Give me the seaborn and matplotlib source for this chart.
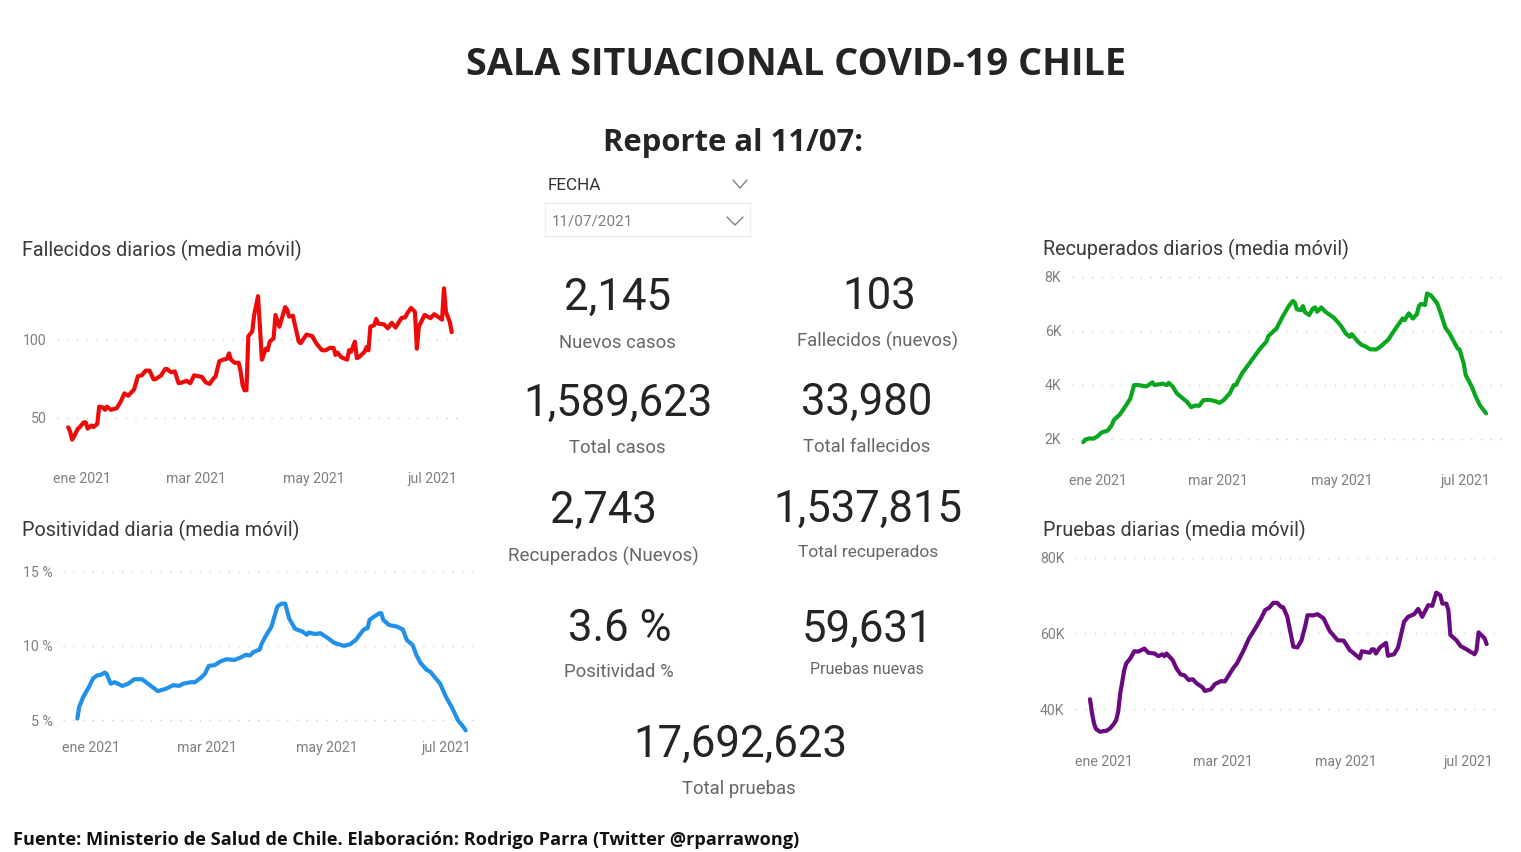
"""Sala situacional COVID-19 Chile: recreated dashboard."""
import matplotlib
matplotlib.use("Agg")
import matplotlib.pyplot as plt
import pandas as pd
import seaborn as sns

# ----------------------------------------------------------------
# DATA (days counted from 1 Jan 2021)
# ----------------------------------------------------------------
fall_dias = [-7, -6, -5, -4, -2, -1, 1, 2, 3, 5, 6, 8, 9, 11, 12, 13, 15, 18, 20, 22,
             24, 27, 29, 31, 33, 35, 37, 38, 41, 43, 44, 46, 48, 50, 52, 54, 56, 58, 60, 62,
             64, 66, 68, 69, 71, 73, 75, 76, 77, 79, 81, 82, 83, 84, 85, 86, 88, 89, 91, 93,
             95, 96, 97, 99, 100, 102, 105, 106, 107, 109, 112, 113, 116, 119, 121, 124, 126, 128, 130, 131,
             132, 134, 137, 138, 139, 141, 142, 143, 146, 147, 148, 149, 151, 152, 153, 156, 158, 160, 162, 165,
             167, 168, 170, 172, 173, 174, 177, 180, 182, 186, 187, 188, 190, 191]
fall_vals = [43.8, 41, 36, 38, 43, 44, 47, 47, 43, 45, 44, 46, 57, 56.5, 55, 57, 55, 56, 60, 65.5,
             64, 68, 76.5, 77, 80, 80, 74.5, 74.5, 77, 81, 81, 79, 79.5, 72, 72.5, 73.5, 72, 77, 76.5, 76,
             72.5, 71.5, 75, 76, 86, 87, 87.5, 91, 87, 85, 85, 79.5, 71, 67.5, 67.5, 102, 105, 115.5, 127.5, 87,
             94, 93, 98.5, 100.5, 115.5, 108, 120.5, 119, 114.5, 115, 98.5, 97.5, 103, 102, 97.5, 93, 93, 94.5, 94.5, 90,
             91.5, 88.5, 87, 93, 92, 98.5, 88, 88.5, 92, 95, 93, 108, 109, 113, 110, 109.5, 107, 110.5, 107.5, 113.5,
             114, 116.5, 120, 117.5, 94, 108, 115.5, 113.5, 116, 112.5, 132.5, 117.5, 111, 104.5]

pos_dias = [-7, -6, -4, -1, 1, 3, 5, 7, 8, 10, 12, 16, 19, 22, 26, 29, 34, 38, 42, 45,
            47, 51, 53, 56, 58, 60, 63, 66, 69, 73, 76, 79, 81, 83, 86, 87, 89, 92, 95, 97,
            99, 101, 104, 108, 110, 111, 114, 117, 121, 124, 129, 132, 135, 137, 139, 141, 142, 144, 147, 148,
            149, 152, 154, 156, 159, 161, 164, 166, 168, 171, 173, 178, 181, 184, 187, 190, 191]
pos_vals = [5.1, 5.9, 6.55, 7.25, 7.8, 8.0, 8.05, 8.2, 8.1, 7.45, 7.55, 7.3, 7.45, 7.75, 7.75, 7.45, 6.95, 7.1, 7.35, 7.3,
            7.45, 7.55, 7.55, 7.85, 8.1, 8.65, 8.7, 8.95, 9.1, 9.05, 9.2, 9.4, 9.35, 9.6, 9.75, 10.15, 10.65, 11.3, 12.65, 12.85,
            12.85, 11.85, 11.15, 10.95, 10.75, 10.9, 10.8, 10.85, 10.5, 10.2, 10.0, 10.1, 10.4, 10.75, 11.1, 11.2, 11.75, 11.95, 12.2, 12.2,
            11.75, 11.4, 11.35, 11.3, 11.1, 10.4, 10.05, 9.35, 8.85, 8.4, 8.25, 7.45, 6.55, 5.85, 5.0, 4.5, 4.3]

rec_dias = [-7, -6, -4, -2, 0, 2, 5, 7, 8, 11, 13, 16, 18, 20, 24, 27, 28, 32, 34, 35,
            37, 39, 42, 44, 46, 48, 50, 52, 55, 58, 60, 62, 65, 67, 68, 71, 75, 77, 80, 83,
            84, 88, 91, 94, 96, 97, 98, 100, 101, 102, 104, 106, 107, 108, 110, 112, 116, 118, 120, 122,
            124, 125, 128, 130, 131, 134, 137, 139, 143, 146, 150, 151, 153, 155, 157, 158, 159, 161, 162, 164,
            167, 169, 171, 173, 177, 178, 180, 181, 184, 186, 188, 191]
rec_vals = [1870, 1970, 2010, 2000, 2090, 2230, 2300, 2500, 2690, 2900, 3120, 3470, 3990, 3990, 3940, 4090, 3990, 4040, 3990, 4070,
            3930, 3680, 3490, 3370, 3170, 3230, 3220, 3430, 3440, 3390, 3330, 3430, 3680, 3990, 3990, 4420, 4830, 5040, 5350, 5600,
            5810, 6090, 6530, 6920, 7110, 7050, 6800, 6770, 6920, 6690, 6590, 6840, 6870, 6710, 6870, 6710, 6500, 6340, 6150, 5910,
            5780, 5880, 5600, 5470, 5450, 5320, 5310, 5410, 5680, 6030, 6460, 6400, 6650, 6460, 6620, 6920, 7000, 6960, 7390, 7310,
            7020, 6590, 6120, 5910, 5350, 5310, 4790, 4360, 3930, 3550, 3240, 2940]

pru_dias = [-7, -6, -5, -4, -2, 0, 1, 3, 5, 6, 7, 8, 10, 11, 13, 15, 17, 20, 22, 25,
            27, 29, 30, 31, 34, 36, 38, 40, 42, 44, 46, 49, 50, 53, 55, 58, 60, 62, 64, 66,
            69, 72, 74, 78, 80, 82, 84, 86, 88, 89, 91, 93, 94, 96, 98, 100, 101, 104, 106, 109,
            112, 116, 119, 122, 123, 127, 128, 132, 133, 134, 135, 137, 140, 141, 144, 146, 149, 151, 154, 156,
            158, 161, 163, 165, 167, 168, 170, 171, 172, 175, 177, 180, 184, 185, 186, 189, 190]
pru_vals = [42600, 38900, 36200, 34700, 34000, 34200, 34200, 34900, 36200, 37100, 39300, 44100, 50300, 52100, 53400, 55300, 55200, 56000, 54900, 54700,
            54000, 54500, 54000, 54700, 53000, 50700, 49200, 48900, 47700, 47900, 46800, 45700, 44800, 45200, 46600, 47400, 47300, 49000, 50700, 52100,
            55200, 58700, 60400, 64000, 66200, 66800, 68100, 68100, 67000, 66900, 64400, 59100, 56500, 56300, 58100, 62200, 64800, 64800, 65100, 64000,
            60700, 58200, 58100, 55600, 55200, 53400, 55300, 54900, 55800, 55800, 54700, 56300, 57500, 54100, 54500, 56300, 63100, 64400, 65100, 66500,
            64400, 67500, 67300, 70800, 70100, 67900, 67900, 66200, 59600, 58200, 56700, 55800, 54500, 55600, 60300, 58700, 57200]

meses = ["2021-01-01", "2021-03-01", "2021-05-01", "2021-07-01"]
meses_txt = ["ene 2021", "mar 2021", "may 2021", "jul 2021"]

kpi_valores = ["2,145", "103", "1,589,623", "33,980", "2,743", "1,537,815", "3.6 %", "59,631", "17,692,623"]
kpi_nombres = ["Nuevos casos", "Fallecidos (nuevos)", "Total casos", "Total fallecidos", "Recuperados (Nuevos)",
               "Total recuperados", "Positividad %", "Pruebas nuevas", "Total pruebas"]

ANCHO, ALTO = 1521, 852
sns.set_theme(style="white")
plt.rcParams["font.family"] = ["Roboto", "DejaVu Sans"]
GRIS = "#808080"
OSCURO = "#3a3a3a"


def a_fecha(dias):
    return pd.Timestamp("2021-01-01") + pd.to_timedelta(dias, unit="D")


fig = plt.figure(figsize=(ANCHO / 100, ALTO / 100), dpi=100, facecolor="white")


def panel(titulo, dias, vals, color, caja, xlim, ylim, yticks, ytxt, pad_x, tit_xy):
    # caja is left, right, top, bottom in image pixels
    x0, x1, y0, y1 = caja
    ax = fig.add_axes([x0 / ANCHO, 1 - y1 / ALTO, (x1 - x0) / ANCHO, (y1 - y0) / ALTO])
    ax.set_facecolor("none")
    df = pd.DataFrame({"fecha": a_fecha(dias), "valor": vals})
    sns.lineplot(data=df, x="fecha", y="valor", ax=ax, color=color, linewidth=3, errorbar=None)
    ax.set_xlim(a_fecha(xlim[0]), a_fecha(xlim[1]))
    ax.set_ylim(*ylim)
    ax.set_xticks(pd.to_datetime(meses))
    ax.set_xticklabels(meses_txt)
    ax.set_yticks(yticks)
    ax.set_yticklabels(ytxt)
    ax.set_xlabel("")
    ax.set_ylabel("")
    ax.tick_params(axis="x", length=0, pad=pad_x, labelsize=10.2, labelcolor=GRIS)
    ax.tick_params(axis="y", length=0, pad=7.5, labelsize=10.2, labelcolor=GRIS)
    ax.grid(axis="y", color="#cfcfcf", linewidth=1, linestyle=(0, (1, 6)))
    ax.grid(axis="x", visible=False)
    sns.despine(ax=ax, left=True, bottom=True)
    fig.text(tit_xy[0] / ANCHO, 1 - tit_xy[1] / ALTO, titulo, fontsize=14.2, color=OSCURO, ha="left", va="center")
    return ax


panel("Fallecidos diarios (media móvil)", fall_dias, fall_vals, "#ee0a0a",
      (57, 462, 280, 460), (-12.8, 196.3), (23, 137.8), [50, 100], ["50", "100"], 8.5, (22, 250))
panel("Positividad diaria (media móvil)", pos_dias, pos_vals, "#2090e8",
      (63, 478, 560, 735), (-14.3, 197.3), (3.99, 15.79), [5, 10, 15], ["5 %", "10 %", "15 %"], 4.5, (22, 530))
panel("Recuperados diarios (media móvil)", rec_dias, rec_vals, "#0aa61e",
      (1071.7, 1501.7, 265, 465), (-12.7, 198.7), (1024, 8445), [2000, 4000, 6000, 8000],
      ["2K", "4K", "6K", "8K"], 6.5, (1043, 249))
panel("Pruebas diarias (media móvil)", pru_dias, pru_vals, "#6a0a80",
      (1075, 1496.7, 545, 745), (-14.45, 195), (30500, 83400), [40000, 60000, 80000],
      ["40K", "60K", "80K"], 7, (1043, 530))

# overlay in image pixels for the cards and headings
capa = fig.add_axes([0, 0, 1, 1])
capa.set_xlim(0, ANCHO)
capa.set_ylim(ALTO, 0)
capa.axis("off")
capa.patch.set_alpha(0)

capa.text(796, 65, "SALA SITUACIONAL COVID-19 CHILE", fontsize=27.3, fontweight="bold", family="Open Sans",
          color="#252423", ha="center", va="center")
capa.text(733, 143, "Reporte al 11/07:", fontsize=22.3, fontweight="bold", family="Open Sans",
          color="#252423", ha="center", va="center")
capa.text(13, 840, "Fuente: Ministerio de Salud de Chile. Elaboración: Rodrigo Parra (Twitter @rparrawong)",
          fontsize=13.05, fontweight="bold", family="Open Sans", color="#111111", ha="left", va="center")

# date slicer
capa.text(548, 185, "FECHA", fontsize=12.3, color="#333333", ha="left", va="center")
capa.text(552, 222, "11/07/2021", fontsize=11, color=GRIS, ha="left", va="center")
capa.add_patch(plt.Rectangle((545, 203), 205, 33, fill=False, edgecolor="#ececec", linewidth=1))
capa.plot([733, 740, 747], [180, 188, 180], color="#808080", linewidth=1)
capa.plot([727, 735, 743], [217, 225, 217], color="#808080", linewidth=1)

# KPI cards
kpi_x = [617, 879, 618, 867, 603, 868, 620, 867, 740]
kpi_y = [298, 297, 404, 403, 511, 510, 629, 630, 745]
nombre_x = [617, 878, 617, 867, 603, 868, 619, 867, 739]
nombre_y = [343, 341, 448, 447, 556, 553, 672, 670, 789]
nombre_tam = [13.3, 13.3, 13.3, 13.3, 13.5, 12.5, 13.3, 11.5, 13.3]
kpi_tam = [31.5, 31.5, 31.5, 31.5, 31.5, 31.5, 31.5, 31.5, 31.5]
for i, valor in enumerate(kpi_valores):
    capa.text(kpi_x[i], kpi_y[i], valor, fontsize=kpi_tam[i], color="#252423", ha="center", va="center")
    capa.text(nombre_x[i], nombre_y[i], kpi_nombres[i], fontsize=nombre_tam[i], color="#666666",
              ha="center", va="center")

fig.savefig("out.png", dpi=100)
